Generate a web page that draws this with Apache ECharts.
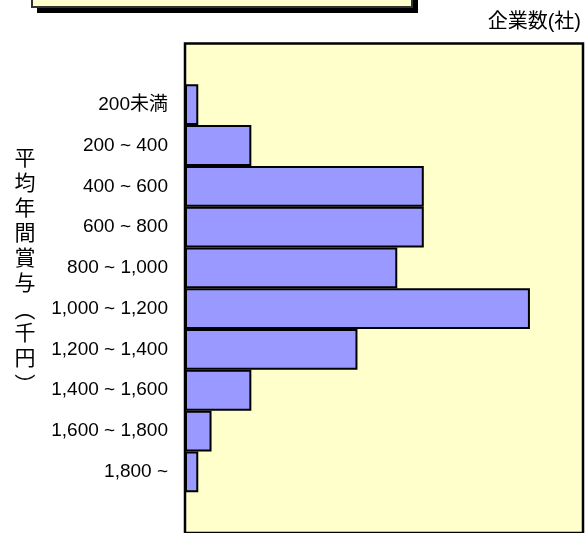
<!DOCTYPE html>
<html>
<head>
<meta charset="utf-8">
<script src="https://cdn.jsdelivr.net/npm/echarts@6/dist/echarts.min.js"></script>
<style>
html,body{margin:0;padding:0;background:#fff;}
#c{width:587px;height:533px;}
</style>
</head>
<body>
<div id="c"></div>
<script>
const categories = ['200未満', '200 ~ 400', '400 ~ 600', '600 ~ 800', '800 ~ 1,000', '1,000 ~ 1,200', '1,200 ~ 1,400', '1,400 ~ 1,600', '1,600 ~ 1,800', '1,800 ~'];
const companies = [1, 5, 18, 18, 16, 26, 13, 5, 2, 1];
const xAxisName = '企業数(社)';
const yTitleTop = '平\n均\n年\n間\n賞\n与';
const yTitleMid = '千\n円';

const FONT = "'Liberation Sans', Arial, 'Noto Sans CJK JP', sans-serif";
const CJK = "'Noto Sans CJK JP', sans-serif";

// pad one empty band above and below
const cats = [''].concat(categories, ['']);
const vals = ['-'].concat(companies, ['-']);

const chart = echarts.init(document.getElementById('c'), null, {renderer: 'canvas'});
chart.setOption({
  animation: false,
  backgroundColor: '#ffffff',
  grid: {
    left: 185, right: 4, top: 43.5, bottom: -3,
    show: true, backgroundColor: '#FFFFCC', borderColor: '#000', borderWidth: 2.5
  },
  xAxis: {
    type: 'value', min: 0, max: 30, show: false,
    splitLine: {show: false}
  },
  yAxis: {
    type: 'category', data: cats, inverse: true,
    axisLine: {show: false}, axisTick: {show: false},
    axisLabel: {color: '#000', fontSize: 19, fontFamily: FONT, margin: 17}
  },
  series: [{
    type: 'bar', data: vals, barCategoryGap: 0,
    itemStyle: {color: '#9999FF', borderColor: '#000', borderWidth: 2}
  }],
  graphic: [
    {type: 'rect', shape: {x: 37, y: -20, width: 381, height: 33}, style: {fill: '#000'}},
    {type: 'rect', shape: {x: 32, y: -20, width: 380, height: 27}, style: {fill: '#FFFFCC', stroke: '#333', lineWidth: 2}},
    {type: 'text', x: 581, y: 22, style: {text: xAxisName, fontSize: 20, fontFamily: FONT, fill: '#000', align: 'right', verticalAlign: 'middle'}},
    {type: 'text', x: 25, y: 145, style: {text: yTitleTop, fontSize: 21, lineHeight: 25, fontFamily: CJK, fill: '#000', align: 'center', verticalAlign: 'top'}},
    {type: 'text', x: 25, y: 310, rotation: -Math.PI / 2, style: {text: '（', x: 0, y: 0, fontSize: 21, fontFamily: CJK, fill: '#000', align: 'center', verticalAlign: 'middle'}},
    {type: 'text', x: 25, y: 319.5, style: {text: yTitleMid, fontSize: 21, lineHeight: 25, fontFamily: CJK, fill: '#000', align: 'center', verticalAlign: 'top'}},
    {type: 'text', x: 25, y: 384, rotation: -Math.PI / 2, style: {text: '）', x: 0, y: 0, fontSize: 21, fontFamily: CJK, fill: '#000', align: 'center', verticalAlign: 'middle'}}
  ]
});
</script>
</body>
</html>
